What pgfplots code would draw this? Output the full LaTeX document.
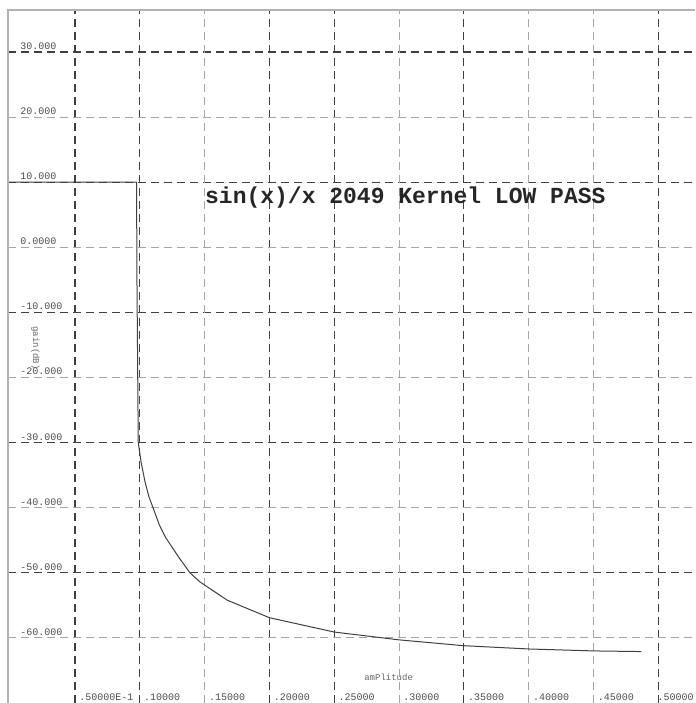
\documentclass[border=0pt]{standalone}
\usepackage{pgfplots}
\pgfplotsset{compat=1.18}
\usepackage{fontspec}
\setmainfont{Liberation Sans}
\setmonofont{Liberation Mono}
\begin{document}
\begin{tikzpicture}
\begin{axis}[
  scale only axis,
  width=343.5pt, height=346.5pt,
  xmin=-0.0017, xmax=0.5284,
  ymin=-70, ymax=36.45,
  clip=false,
  axis line style={draw=none},
  major tick length=0pt,
  xtick={0.05,0.1,0.2,0.25,0.35,0.5},
  xticklabels={.50000E-1,.10000,.20000,.25000,.35000,\hspace*{-2.5pt}.50000},
  extra x ticks={0.15,0.3,0.4,0.45},
  extra x tick labels={.15000,.30000,.40000,.45000},
  ytick={30,10,-10,-30,-50},
  yticklabels={30.000,10.000,-10.000,-30.000,-50.000},
  extra y ticks={20,0,-20,-40,-60},
  extra y tick labels={20.000,0.0000,-20.000,-40.000,-60.000},
  grid=major,
  major grid style={black!75, line width=0.6pt, dash pattern=on 4pt off 2.5pt},
  extra tick style={grid=major, major grid style={black!35, line width=0.5pt, dash pattern=on 4pt off 2.5pt}},
  tick label style={font=\fontsize{5}{6}\selectfont\ttfamily, text=black!70},
  xticklabel style={anchor=south west, inner sep=1pt, xshift=1pt},
  yticklabel style={anchor=south west, inner sep=1pt, xshift=5pt},
]
\addplot[black!75, line width=0.5pt] coordinates {
  (-0.0017,10) (0.0975,10) (0.0978,-5) (0.0988,-30) (0.101,-33) (0.104,-36)
  (0.107,-38.3) (0.1102,-40) (0.115,-42.6) (0.12,-44.6) (0.13,-47.6)
  (0.1387,-50) (0.1464,-51.4) (0.1674,-54.2) (0.2,-56.9) (0.25,-59.1)
  (0.3,-60.3) (0.35,-61.2) (0.4,-61.7) (0.45,-62.0) (0.487,-62.1)
};
\draw[black!30, line width=0.8pt] (rel axis cs:0,0) -- (rel axis cs:0,1) -- (rel axis cs:1,1);
\node[anchor=west, font=\fontsize{11.5}{13}\selectfont\ttfamily\bfseries, text=black!85]
  at (axis cs:0.145,7.6) {sin(x)/x 2049 Kernel LOW PASS};
\node[anchor=south, font=\fontsize{4.5}{5}\selectfont\ttfamily, text=black!60]
  at (axis cs:0.292,-67.6) {amPlitude};
\node[rotate=-90, font=\fontsize{4.5}{5}\selectfont\ttfamily, text=black!60]
  at (axis cs:0.0195,-15.5) {gain(dB)};
\coordinate (A) at (rel axis cs:0,0);
\coordinate (B) at (rel axis cs:1,1);
\end{axis}
\pgfresetboundingbox
\path ([xshift=-4pt]A) rectangle ([yshift=5pt]B);
\end{tikzpicture}
\end{document}
